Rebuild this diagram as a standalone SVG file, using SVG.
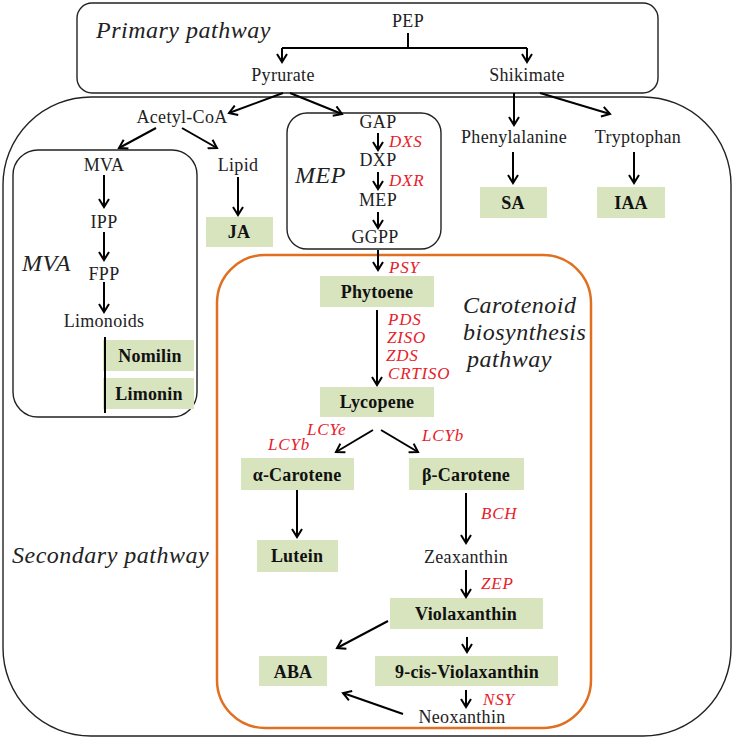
<svg xmlns="http://www.w3.org/2000/svg" width="733" height="739" viewBox="0 0 733 739">
<style>
text{font-family:'Liberation Serif','Times New Roman','DejaVu Serif',serif}
.t{font-size:18px;fill:#222;text-anchor:middle;letter-spacing:0.3px}
.b{font-size:18px;font-weight:bold;fill:#111;text-anchor:middle;letter-spacing:0.2px}
.e{font-size:17px;font-style:italic;fill:#e8202a;letter-spacing:0.8px}
.h{font-size:24px;font-style:italic;fill:#222;letter-spacing:0.5px}
.g{fill:#d7e4bd}
.box{fill:none;stroke:#222;stroke-width:1.4}
.ln{fill:none;stroke:#000;stroke-width:2}
.ar{fill:none;stroke:#000;stroke-width:2;marker-end:url(#ah)}
</style>
<defs>
<marker id="ah" markerWidth="12" markerHeight="12" refX="9" refY="6" orient="auto" markerUnits="userSpaceOnUse">
<path d="M1,1 L9,6 L1,11" fill="none" stroke="#000" stroke-width="2"/>
</marker>
</defs>
<rect width="733" height="739" fill="#fff"/>

<g id="primary">
<rect class="box" x="77" y="3" width="581" height="90" rx="15"/>
<text class="h" x="96" y="38">Primary pathway</text>
</g>
<g id="secondary">
<rect class="box" x="3" y="97" width="728" height="639" rx="88"/>
<text class="h" x="12" y="563">Secondary pathway</text>
</g>
<g id="mvaBox">
<rect class="box" x="13" y="150" width="184" height="267" rx="25"/>
<text class="h" x="22" y="271">MVA</text>
</g>
<g id="mepBox">
<rect class="box" x="287" y="113" width="154" height="136" rx="20"/>
<text class="h" x="295" y="183">MEP</text>
</g>
<g id="carotenoidBox">
<rect x="217" y="255" width="374" height="473" rx="48" fill="none" stroke="#e07020" stroke-width="2.5"/>
<text class="h" x="463" y="313">Carotenoid</text>
<text class="h" x="463" y="340">biosynthesis</text>
<text class="h" x="467" y="367">pathway</text>
</g>

<g id="PEP"><text class="t" x="408" y="27">PEP</text></g>
<g id="Pyrurate"><text class="t" x="283" y="81">Pyrurate</text></g>
<g id="Shikimate"><text class="t" x="527" y="81">Shikimate</text></g>
<g id="AcetylCoA"><text class="t" x="182" y="123">Acetyl-CoA</text></g>
<g id="MVA"><text class="t" x="104" y="171">MVA</text></g>
<g id="IPP"><text class="t" x="104" y="228">IPP</text></g>
<g id="FPP"><text class="t" x="104" y="280">FPP</text></g>
<g id="Limonoids"><text class="t" x="104" y="327">Limonoids</text></g>
<g id="Nomilin"><rect class="g" x="103" y="340" width="91" height="31"/><text class="b" x="150" y="362">Nomilin</text></g>
<g id="Limonin"><rect class="g" x="103" y="378" width="91" height="31"/><text class="b" x="149" y="400">Limonin</text></g>
<g id="Lipid"><text class="t" x="238" y="171">Lipid</text></g>
<g id="JA"><rect class="g" x="206" y="217" width="67" height="30"/><text class="b" x="239" y="238">JA</text></g>
<g id="GAP"><text class="t" x="378" y="128">GAP</text></g>
<g id="DXP"><text class="t" x="378" y="166">DXP</text></g>
<g id="MEP"><text class="t" x="378" y="206">MEP</text></g>
<g id="GGPP"><text class="t" x="375" y="243">GGPP</text></g>
<g id="Phenylalanine"><text class="t" x="514" y="143">Phenylalanine</text></g>
<g id="Tryptophan"><text class="t" x="638" y="143">Tryptophan</text></g>
<g id="SA"><rect class="g" x="480" y="187" width="67" height="31"/><text class="b" x="513" y="209">SA</text></g>
<g id="IAA"><rect class="g" x="597" y="187" width="68" height="31"/><text class="b" x="631" y="209">IAA</text></g>
<g id="Phytoene"><rect class="g" x="320" y="276" width="114" height="31"/><text class="b" x="377" y="298">Phytoene</text></g>
<g id="Lycopene"><rect class="g" x="320" y="387" width="114" height="30"/><text class="b" x="377" y="408">Lycopene</text></g>
<g id="aCarotene"><rect class="g" x="241" y="458" width="113" height="32"/><text class="b" x="297" y="481">α-Carotene</text></g>
<g id="bCarotene"><rect class="g" x="409" y="458" width="115" height="32"/><text class="b" x="466" y="481">β-Carotene</text></g>
<g id="Lutein"><rect class="g" x="257" y="540" width="81" height="32"/><text class="b" x="297" y="562">Lutein</text></g>
<g id="Zeaxanthin"><text class="t" x="466" y="563">Zeaxanthin</text></g>
<g id="Violaxanthin"><rect class="g" x="390" y="598" width="153" height="31"/><text class="b" x="466" y="620">Violaxanthin</text></g>
<g id="ABA"><rect class="g" x="259" y="656" width="68" height="30"/><text class="b" x="293" y="678">ABA</text></g>
<g id="cisViolaxanthin"><rect class="g" x="375" y="656" width="183" height="30"/><text class="b" x="467" y="678">9-cis-Violaxanthin</text></g>
<g id="Neoxanthin"><text class="t" x="462" y="723">Neoxanthin</text></g>

<g id="enzymes">
<text class="e" x="389" y="147">DXS</text>
<text class="e" x="389" y="186">DXR</text>
<text class="e" x="389" y="273">PSY</text>
<text class="e" x="388" y="325">PDS</text>
<text class="e" x="387" y="343">ZISO</text>
<text class="e" x="386" y="361">ZDS</text>
<text class="e" x="388" y="379">CRTISO</text>
<text class="e" x="307" y="435">LCYe</text>
<text class="e" x="268" y="450">LCYb</text>
<text class="e" x="422" y="441">LCYb</text>
<text class="e" x="481" y="519">BCH</text>
<text class="e" x="481" y="589">ZEP</text>
<text class="e" x="483" y="705">NSY</text>
</g>

<g id="connectors">
<path class="ln" d="M408,33 V48 M282,48 H527"/>
<path class="ar" d="M282,48 V62"/>
<path class="ar" d="M527,48 V62"/>
<path class="ar" d="M283,93 L229,113"/>
<path class="ar" d="M290,93 L342,114"/>
<path class="ar" d="M514,93 V125"/>
<path class="ar" d="M540,93 L610,114"/>
<path class="ar" d="M156,128 L119,148"/>
<path class="ar" d="M182,128 L217,148"/>
<path class="ar" d="M104,175 V207"/>
<path class="ar" d="M104,232 V260"/>
<path class="ar" d="M104,282 V312"/>
<path class="ln" d="M105,337 V413"/>
<path class="ar" d="M238,177 V215"/>
<path class="ar" d="M378,133 V150"/>
<path class="ar" d="M378,172 V189"/>
<path class="ar" d="M378,212 V228"/>
<path class="ar" d="M378,250 V270"/>
<path class="ar" d="M513,152 V183"/>
<path class="ar" d="M634,152 V183"/>
<path class="ar" d="M377,310 V385"/>
<path class="ar" d="M373,430 L336,452"/>
<path class="ar" d="M381,430 L418,452"/>
<path class="ar" d="M297,490 V537"/>
<path class="ar" d="M466,493 V543"/>
<path class="ar" d="M466,570 V597"/>
<path class="ar" d="M388,621 L337,648"/>
<path class="ar" d="M467,637 V652"/>
<path class="ar" d="M466,690 V707"/>
<path class="ar" d="M403,714 L343,693"/>
</g>
</svg>
